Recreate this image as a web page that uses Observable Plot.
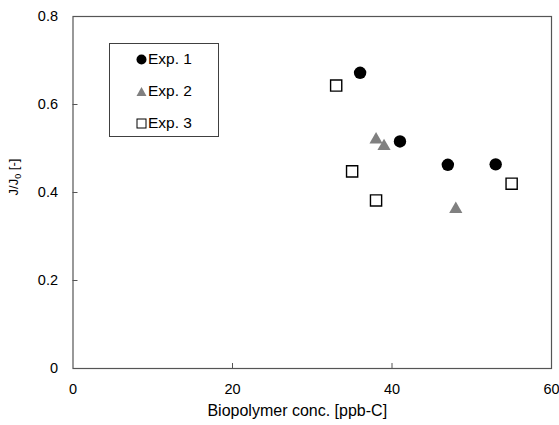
<!DOCTYPE html>
<html><head><meta charset="utf-8">
<script src="https://cdn.jsdelivr.net/npm/d3@7"></script>
<script src="https://cdn.jsdelivr.net/npm/@observablehq/plot@0.6"></script>
<style>
body{margin:0;background:#fff;}
#wrap{position:relative;width:559px;height:425px;font-family:"Liberation Sans",Arial,sans-serif;}
.legend{position:absolute;left:109px;top:43px;width:110px;height:94px;border:1px solid #404040;background:#fff;box-sizing:border-box;}
.row{position:absolute;left:0;height:18px;font-size:15.5px;color:#000;}
.row svg{position:absolute;left:26px;top:4px;}
.row span{position:absolute;left:38px;white-space:nowrap;line-height:18px;top:0;}
</style></head>
<body><div id="wrap"></div>
<script>
const seriesNames = ["Exp. 1", "Exp. 2", "Exp. 3"];
const exp1X = [36, 41, 47, 53];
const exp1Y = [0.672, 0.516, 0.463, 0.464];
const exp2X = [38, 39, 48];
const exp2Y = [0.520, 0.505, 0.362];
const exp3X = [33, 35, 38, 55];
const exp3Y = [0.643, 0.448, 0.382, 0.420];
const xTicks = [0, 20, 40, 60];
const yTicks = [0, 0.2, 0.4, 0.6, 0.8];
const xTitle = "Biopolymer conc. [ppb-C]";

const toRows = (xs, ys, s) => xs.map((x, i) => ({x, y: ys[i], s}));
const d1 = toRows(exp1X, exp1Y, seriesNames[0]);
const d2 = toRows(exp2X, exp2Y, seriesNames[1]);
const d3r = toRows(exp3X, exp3Y, seriesNames[2]);

const W = 559, H = 425, ML = 72.5, MR = 8, MT = 16, MB = 57;
const plotW = W - ML - MR, plotH = H - MT - MB;
const FS = 14.5;

const chart = Plot.plot({
  width: W, height: H,
  marginLeft: ML, marginRight: MR, marginTop: MT, marginBottom: MB,
  style: {fontFamily: '"Liberation Sans", Arial, sans-serif', fontSize: FS + "px", color: "#000", background: "#fff", overflow: "visible"},
  x: {domain: [0, 60]},
  y: {domain: [0, 0.8]},
  marks: [
    Plot.frame({stroke: "#555", strokeWidth: 1.2}),
    Plot.tickY(yTicks.slice(1, -1), {y: d => d, stroke: "#555", insetRight: plotW - 5}),
    Plot.tickX(xTicks.slice(1, -1), {x: d => d, stroke: "#555", insetTop: plotH - 5}),
    Plot.axisX({ticks: xTicks, tickSize: 0, tickPadding: 15, label: null, fontSize: FS, fill: "#000", tickFormat: d => String(d)}),
    Plot.axisY({ticks: yTicks, tickSize: 0, tickPadding: 15, label: null, fontSize: FS, fill: "#000", tickFormat: d => d === 0 ? "0" : d.toFixed(1)}),
    Plot.text([xTitle], {frameAnchor: "bottom", text: d => d, dx: -15, dy: 47, fontSize: 16, fill: "#000"}),
    Plot.dot(d1, {x: "x", y: "y", symbol: "circle", r: 6.2, fill: "#000", stroke: "none"}),
    Plot.dot(d2, {x: "x", y: "y", symbol: "triangle", r: 4.9, fill: "#808080", stroke: "none"}),
    Plot.dot(d3r, {x: "x", y: "y", symbol: "square", r: 6.3, fill: "#fff", stroke: "#000", strokeWidth: 1.4})
  ]
});

const wrap = document.getElementById("wrap");
wrap.appendChild(chart);

// y-axis title with subscript
const svg = d3.select(chart);
const yt = svg.append("text")
  .attr("transform", "translate(18,177) rotate(-90)")
  .attr("text-anchor", "middle")
  .attr("font-size", 13)
  .attr("fill", "#000");
yt.append("tspan").text("J/J");
yt.append("tspan").attr("dy", 3).attr("font-size", 9).text("0");
yt.append("tspan").attr("dy", -3).text(" [-]");

// legend
const legend = document.createElement("div");
legend.className = "legend";
const shapes = [
  '<svg width="11" height="11"><circle cx="5.5" cy="5.5" r="5" fill="#000"/></svg>',
  '<svg width="11" height="11"><polygon points="5.5,1 10.5,10 0.5,10" fill="#808080"/></svg>',
  '<svg width="11" height="11"><rect x="1" y="1" width="9" height="9" fill="#fff" stroke="#000" stroke-width="1"/></svg>'
];
const rowTops = [6, 38, 70];
seriesNames.forEach((n, i) => {
  const r = document.createElement("div");
  r.className = "row";
  r.style.top = rowTops[i] + "px";
  r.innerHTML = shapes[i] + "<span>" + n + "</span>";
  legend.appendChild(r);
});
wrap.appendChild(legend);
</script></body></html>
